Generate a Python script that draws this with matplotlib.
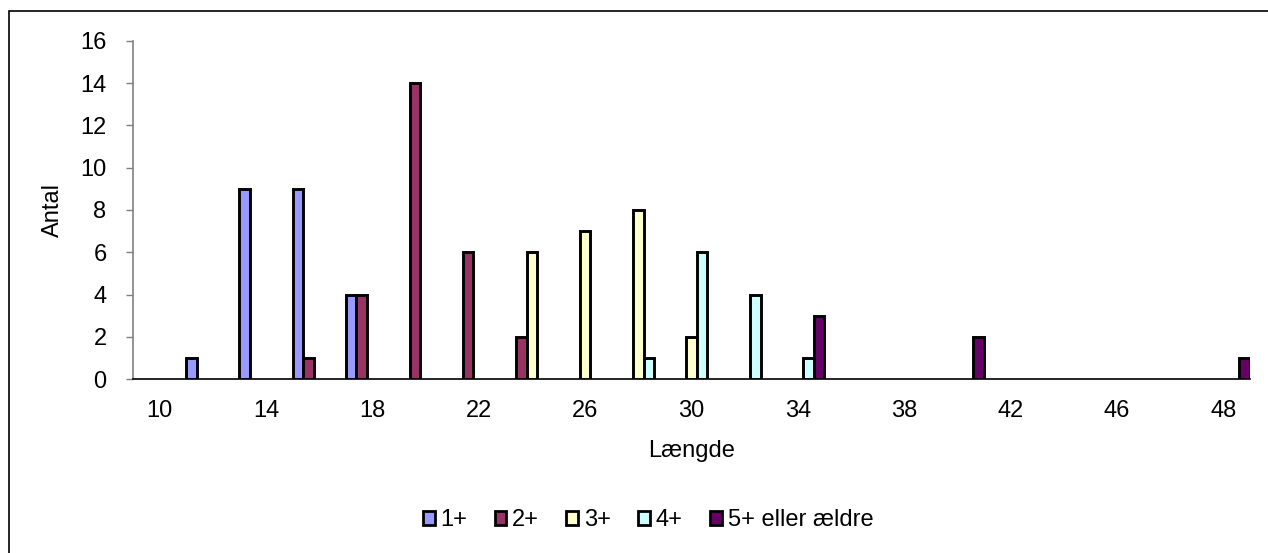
# ─── IMPORTS ───

import numpy as np
import matplotlib
matplotlib.use("Agg")
import matplotlib.pyplot as plt
from matplotlib.patches import Rectangle, Patch


# ─── DATA ───

# length classes on the category axis (only every other one gets a label)
lengths = [10, 12, 14, 16, 18, 20, 22, 24, 26, 28, 30, 32, 34, 36, 38, 40, 42, 44, 46, 47, 48]

series_names = ["1+", "2+", "3+", "4+", "5+ eller ældre"]

age_1 = [0, 1, 9, 9, 4, 0, 0, 0, 0, 0, 0, 0, 0, 0, 0, 0, 0, 0, 0, 0, 0]
age_2 = [0, 0, 0, 1, 4, 14, 6, 2, 0, 0, 0, 0, 0, 0, 0, 0, 0, 0, 0, 0, 0]
age_3 = [0, 0, 0, 0, 0, 0, 0, 6, 7, 8, 2, 0, 0, 0, 0, 0, 0, 0, 0, 0, 0]
age_4 = [0, 0, 0, 0, 0, 0, 0, 0, 0, 1, 6, 4, 1, 0, 0, 0, 0, 0, 0, 0, 0]
age_5 = [0, 0, 0, 0, 0, 0, 0, 0, 0, 0, 0, 0, 3, 0, 0, 2, 0, 0, 0, 0, 1]

y_ticks = [0, 2, 4, 6, 8, 10, 12, 14, 16]


# ─── STYLE ───

COLORS = ["#9999FF", "#993366", "#FFFFCC", "#CCFFFF", "#660066"]
FONT = "Liberation Sans"
FS = 17
EDGE_LW = 2.1

plt.rcParams["font.family"] = [FONT, "DejaVu Sans"]


# ─── FIGURE ───

W, H = 1268, 553
fig = plt.figure(figsize=(W / 100, H / 100), dpi=100)

left, right, top, bottom = 133, 1250, 40.7, 379.3
ax = fig.add_axes([left / W, (H - bottom) / H, (right - left) / W, (bottom - top) / H])

n_cat = len(lengths)
n_ser = len(series_names)
slot = 1.0 / n_ser
x = np.arange(n_cat)

for k, (vals, color) in enumerate(zip([age_1, age_2, age_3, age_4, age_5], COLORS)):
    vals = np.array(vals, dtype=float)
    keep = vals > 0
    ax.bar(x[keep] + k * slot, vals[keep], width=slot, align="edge",
           color=color, edgecolor="black", linewidth=EDGE_LW, zorder=3)

ax.set_xlim(0, n_cat)
ax.set_ylim(0, 16)

ax.set_xticks(x[::2] + 0.5)
ax.set_xticklabels([str(v) for v in lengths[::2]], fontsize=FS)
ax.tick_params(axis="x", length=0, pad=15)

ax.set_yticks(y_ticks)
ax.set_yticklabels([str(v) for v in y_ticks], fontsize=FS)
ax.tick_params(axis="y", direction="out", length=5, width=1, color="#808080", pad=14)

ax.spines[["top", "right"]].set_visible(False)
ax.spines["left"].set_color("#808080")
ax.spines["left"].set_linewidth(1.2)
ax.spines["bottom"].set_color("black")
ax.spines["bottom"].set_linewidth(1.2)

ax.set_xlabel("Længde", fontsize=FS, labelpad=13)
ax.set_ylabel("Antal", fontsize=FS, labelpad=12)

handles = [Patch(facecolor=c, edgecolor="black", linewidth=2.0) for c in COLORS]
fig.legend(handles, series_names, loc="center", bbox_to_anchor=(648 / W, (H - 520) / H),
           ncol=n_ser, frameon=False, fontsize=FS, handlelength=0.5, handleheight=0.55,
           handletextpad=0.25, columnspacing=1.15)

# chart area border (runs off the right and bottom edge of the picture)
fig.patches.append(Rectangle((9 / W, -0.1), 1.2, 1 - 11 / H + 0.1, transform=fig.transFigure,
                             fill=False, edgecolor="black", linewidth=1.2))

fig.savefig("out.png", dpi=100)
